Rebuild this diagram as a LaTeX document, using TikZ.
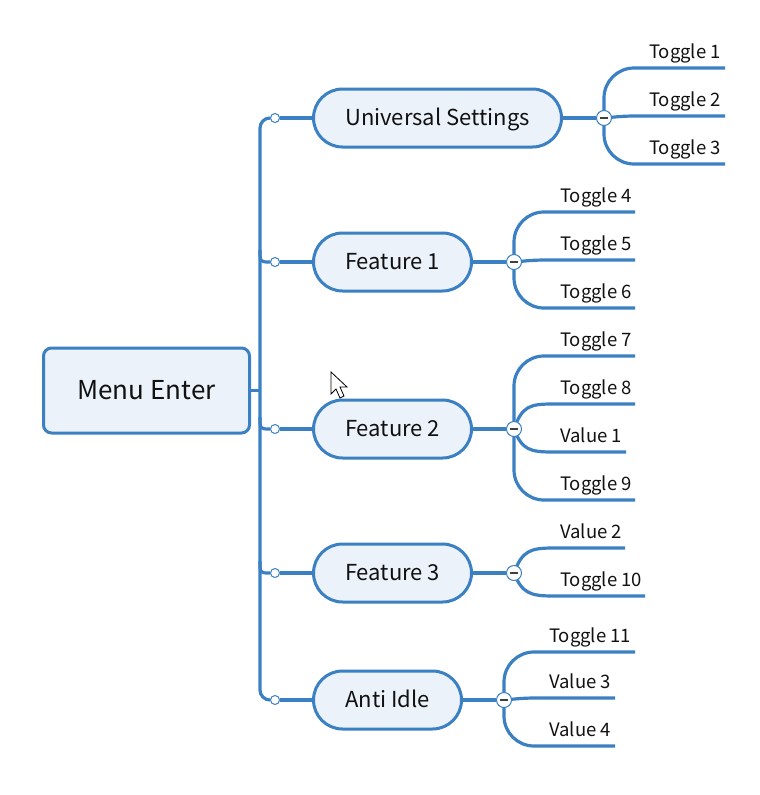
\documentclass[tikz,border=0pt]{standalone}
\usepackage{fontspec}
\setmainfont{Noto Sans CJK SC}
\usetikzlibrary{backgrounds}
\definecolor{lc}{HTML}{3A80C2}
\definecolor{fc}{HTML}{EBF2FA}
\definecolor{tc}{HTML}{111111}
\newcommand{\fsz}[1]{\fontsize{#1}{#1}\selectfont}
\tikzset{
  ln/.style={draw=lc, line width=3.2pt},
  rootbox/.style={draw=lc, fill=fc, line width=3pt, rounded corners=8pt, minimum width=206pt, minimum height=85pt, font=\fsz{26}, text=tc, inner sep=0pt, text height=23pt, text depth=5pt},
  pill/.style={draw=lc, fill=fc, line width=3pt, rounded corners=29pt, minimum height=58pt, font=\fsz{22}, text=tc, inner sep=0pt, text height=18pt, text depth=4pt},
  dot/.style={circle, draw=lc, fill=white, line width=1pt, minimum size=9pt, inner sep=0pt},
  fold/.style={circle, draw=lc, fill=white, line width=1pt, minimum size=15pt, inner sep=0pt},
  leaf/.style={anchor=base west, font=\fsz{18.5}, text=tc, inner sep=0pt},
}
\newcommand{\minus}[1]{\draw[line width=1.2pt, color=black!75] ([xshift=-4pt]#1.center) -- ([xshift=4pt]#1.center);}
\begin{document}
\begin{tikzpicture}[x=1pt, y=-1pt]
\useasboundingbox (0,0) rectangle (760,795);
% root and main topics
\node[rootbox] (root) at (146.5,390.5) {Menu Enter};
\node[pill, minimum width=248pt] (us) at (437.5,118) {Universal Settings};
\node[pill, minimum width=158pt] (f1) at (392.5,262) {Feature 1};
\node[pill, minimum width=158pt] (f2) at (392.5,429) {Feature 2};
\node[pill, minimum width=158pt] (f3) at (392.5,573) {Feature 3};
\node[pill, minimum width=148pt] (ai) at (387.5,700) {Anti Idle};
% small dots
\node[dot] (d1) at (275,118) {};
\node[dot] (d2) at (275,262) {};
\node[dot] (d3) at (275,429) {};
\node[dot] (d4) at (275,573) {};
\node[dot] (d5) at (275,700) {};
% fold circles
\node[fold] (c0) at (604,118) {};
\node[fold] (c1) at (514,262) {};
\node[fold] (c2) at (514,429) {};
\node[fold] (c3) at (514,573) {};
\node[fold] (c4) at (504,700) {};
\minus{c0}\minus{c1}\minus{c2}\minus{c3}\minus{c4}
% leaves
\node[leaf] (t1) at (649,58) {Toggle 1};
\node[leaf] (t2) at (649,106) {Toggle 2};
\node[leaf] (t3) at (649,154) {Toggle 3};
\node[leaf] (t4) at (560,202) {Toggle 4};
\node[leaf] (t5) at (560,250) {Toggle 5};
\node[leaf] (t6) at (560,298) {Toggle 6};
\node[leaf] (t7) at (560,346) {Toggle 7};
\node[leaf] (t8) at (560,394) {Toggle 8};
\node[leaf] (v1) at (560,442) {Value 1};
\node[leaf] (t9) at (560,490) {Toggle 9};
\node[leaf] (v2) at (560,538) {Value 2};
\node[leaf] (t10) at (560,586) {Toggle 10};
\node[leaf] (t11) at (549,642) {Toggle 11};
\node[leaf] (v3) at (549,688) {Value 3};
\node[leaf] (v4) at (549,736) {Value 4};
% cursor
\draw[fill=white, draw=black, line width=0.8pt, line join=miter]
  (331,372) -- (331,394) -- (336,389) -- (340,398) -- (344,396) -- (340,387) -- (347,387) -- cycle;
\begin{scope}[on background layer]
% trunk
\draw[ln, rounded corners=10pt] (d1.west) -- (260,118) -- (260,700) -- (d5.west);
\draw[ln] (root.east) -- (260,390.5);
\draw[ln] (260,250) .. controls (260,262) .. (d2.west);
\draw[ln] (260,417) .. controls (260,429) .. (d3.west);
\draw[ln] (260,561) .. controls (260,573) .. (d4.west);
\draw[ln] (d1.east) -- (us.west);
\draw[ln] (d2.east) -- (f1.west);
\draw[ln] (d3.east) -- (f2.west);
\draw[ln] (d4.east) -- (f3.west);
\draw[ln] (d5.east) -- (ai.west);
% to fold circles
\draw[ln] (us.east) -- (c0.west);
\draw[ln] (f1.east) -- (c1.west);
\draw[ln] (f2.east) -- (c2.west);
\draw[ln] (f3.east) -- (c3.west);
\draw[ln] (ai.east) -- (c4.west);
% universal leaves
\draw[ln, rounded corners=30pt] (c0.center) |- (725,68);
\draw[ln] (c0.center) .. controls (625,116) .. (645,116) -- (725,116);
\draw[ln, rounded corners=30pt] (c0.center) |- (725,164);
% feature 1 leaves
\draw[ln, rounded corners=30pt] (c1.center) |- (635,212);
\draw[ln] (c1.center) .. controls (535,260) .. (555,260) -- (635,260);
\draw[ln, rounded corners=30pt] (c1.center) |- (635,308);
% feature 2 leaves
\draw[ln, rounded corners=30pt] (c2.center) |- (635,356);
\draw[ln] (c2.center) .. controls (522,406) and (530,404) .. (553,404) -- (635,404);
\draw[ln] (c2.center) .. controls (522,450) and (530,452) .. (553,452) -- (626,452);
\draw[ln, rounded corners=30pt] (c2.center) |- (635,500);
% feature 3 leaves
\draw[ln] (c3.center) .. controls (522,551) and (530,548) .. (553,548) -- (625,548);
\draw[ln] (c3.center) .. controls (522,593) and (530,596) .. (553,596) -- (645,596);
% anti idle leaves
\draw[ln, rounded corners=30pt] (c4.center) |- (635,652);
\draw[ln] (c4.center) .. controls (525,698) .. (545,698) -- (615,698);
\draw[ln, rounded corners=30pt] (c4.center) |- (615,746);
\end{scope}
\end{tikzpicture}
\end{document}
